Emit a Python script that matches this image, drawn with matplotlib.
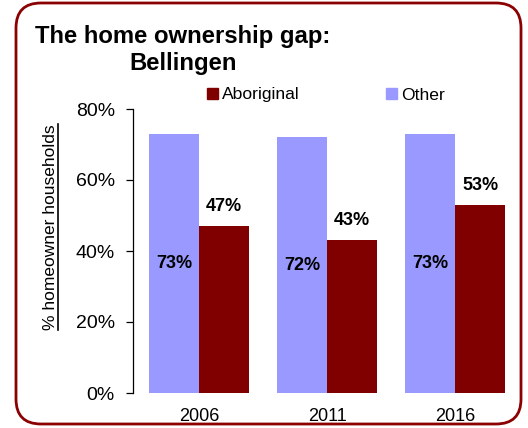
import matplotlib
matplotlib.use('Agg')
import matplotlib.pyplot as plt
from matplotlib.patches import Patch, FancyBboxPatch
from matplotlib.lines import Line2D
import numpy as np

plt.rcParams['font.family'] = ['Liberation Sans', 'DejaVu Sans']

years = ['2006', '2011', '2016']
other = [73, 72, 73]
aboriginal = [47, 43, 53]

col_other = '#9999FF'
col_abor = '#800000'

fig = plt.figure(figsize=(5.28, 4.28), dpi=100)

# axes placed in pixel terms of the 528x428 canvas
ax = fig.add_axes([133 / 528, 35 / 428, 380 / 528, 284 / 428])

x = np.arange(len(years))
w = 0.39
b_other = ax.bar(x - w / 2, other, w, color=col_other)
b_abor = ax.bar(x + w / 2, aboriginal, w, color=col_abor)

ax.bar_label(b_other, labels=[f'{v}%' for v in other], label_type='center',
             fontsize=13, fontweight='bold')
ax.bar_label(b_abor, labels=[f'{v}%' for v in aboriginal], padding=8,
             fontsize=13, fontweight='bold')

ax.set_xlim(-0.516, 2.45)
ax.set_ylim(0, 80)
ax.set_yticks([0, 20, 40, 60, 80])
ax.set_yticklabels([f'{t}%' for t in [0, 20, 40, 60, 80]])
ax.set_xticks(x)
ax.set_xticklabels(years)

for s in ['top', 'right', 'bottom']:
    ax.spines[s].set_visible(False)
ax.spines['left'].set_linewidth(0.9)
ax.tick_params(axis='y', direction='out', length=5, width=0.9, labelsize=14, pad=8)
ax.tick_params(axis='x', length=0, labelsize=13, pad=11)

# y label, underlined
ylab = fig.text(51 / 528, 1 - 227 / 428, '% homeowner households', rotation=90,
                ha='center', va='center', fontsize=12.5)
fig.canvas.draw()
bb = ylab.get_window_extent().transformed(fig.transFigure.inverted())
fig.add_artist(Line2D([58 / 528, 58 / 528], [bb.y0, bb.y1],
                      transform=fig.transFigure, color='black', lw=1.2))

# title
fig.text(183 / 528, 1 - 43 / 428, 'The home ownership gap:', ha='center',
         va='baseline', fontsize=17.2, fontweight='bold')
fig.text(183 / 528, 1 - 70 / 428, 'Bellingen', ha='center',
         va='baseline', fontsize=17.2, fontweight='bold')

# legend
handles = [Patch(color=col_abor), Patch(color=col_other)]
fig.legend(handles, ['Aboriginal', 'Other'], loc='center left',
           bbox_to_anchor=(207 / 528, 1 - 95 / 428), ncol=2, frameon=False,
           fontsize=12.6, handlelength=0.63, handleheight=0.63,
           handletextpad=0.25, columnspacing=4.9, borderpad=0, borderaxespad=0)

# rounded border
border = FancyBboxPatch((0.16, 0.04), 5.05, 4.21,
                        boxstyle='round,pad=0,rounding_size=0.25',
                        transform=fig.dpi_scale_trans, fill=False,
                        edgecolor='#8B0000', lw=2)
fig.add_artist(border)

fig.savefig('out.png', dpi=100)
